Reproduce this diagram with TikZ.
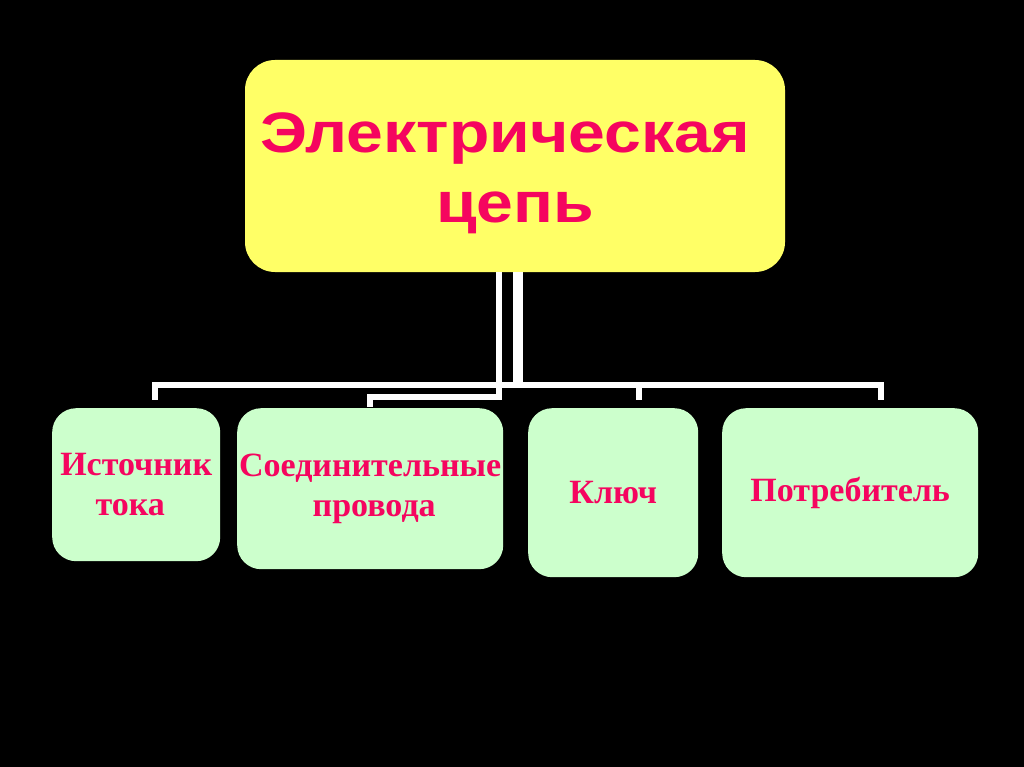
\documentclass[tikz,border=0pt]{standalone}
\usepackage{fontspec}
\setmainfont{Liberation Serif}
\newfontfamily\headfont[FakeStretch=1.16]{Liberation Sans}

\definecolor{headyellow}{RGB}{255,255,102}
\definecolor{leafgreen}{RGB}{204,255,204}
\definecolor{labelpink}{RGB}{245,5,95}

\begin{document}
\begin{tikzpicture}[x=1pt,
					y=-1pt,
					main node/.style={rectangle,rounded corners=30pt,fill=headyellow,text=labelpink,
						align=center,inner sep=0pt,font=\headfont\bfseries\fontsize{57}{70}\selectfont},
					sub node/.style={rectangle,rounded corners=24pt,fill=leafgreen,text=labelpink,
						align=center,inner sep=0pt,anchor=north west,font=\bfseries\fontsize{34}{40}\selectfont},
					wire/.style={draw=white,line width=6pt}]

  \useasboundingbox[fill=black] (0,0) rectangle (1024,767);

  \node[main node,minimum width=540pt,minimum height=212pt] (circuit) at (515,166) {\rule{0pt}{54pt}Электрическая\hspace*{20pt}\\цепь};

  \node[sub node,minimum width=168pt,minimum height=153pt] (source) at (52,408) {Источник\\тока\hspace*{12pt}};
  \node[sub node,minimum width=266pt,minimum height=161pt] (wires) at (237,408) {Соединительные\\\hspace*{8pt}провода};
  \node[sub node,minimum width=170pt,minimum height=169pt] (key) at (528,408) {Ключ};
  \node[sub node,minimum width=256pt,minimum height=169pt] (consumer) at (722,408) {Потребитель};

  % free ends of the connectors, just above the boxes
  \coordinate (d1) at ([xshift=19pt,yshift=8pt]source.north);
  \coordinate (d2) at ([yshift=1pt]wires.north);
  \coordinate (d3) at ([xshift=26pt,yshift=8pt]key.north);
  \coordinate (d4) at ([xshift=31pt,yshift=8pt]consumer.north);

  \draw[wire] ([xshift=1pt]circuit.south) -- ++(0,113) -| (d1);
  \draw[wire] ([xshift=-16pt]circuit.south) -- ++(0,125) -| (d2);
  \draw[wire] ([xshift=5pt]circuit.south) -- ++(0,113) -| (d3);
  \draw[wire] ([xshift=5pt]circuit.south) -- ++(0,113) -| (d4);
\end{tikzpicture}
\end{document}
